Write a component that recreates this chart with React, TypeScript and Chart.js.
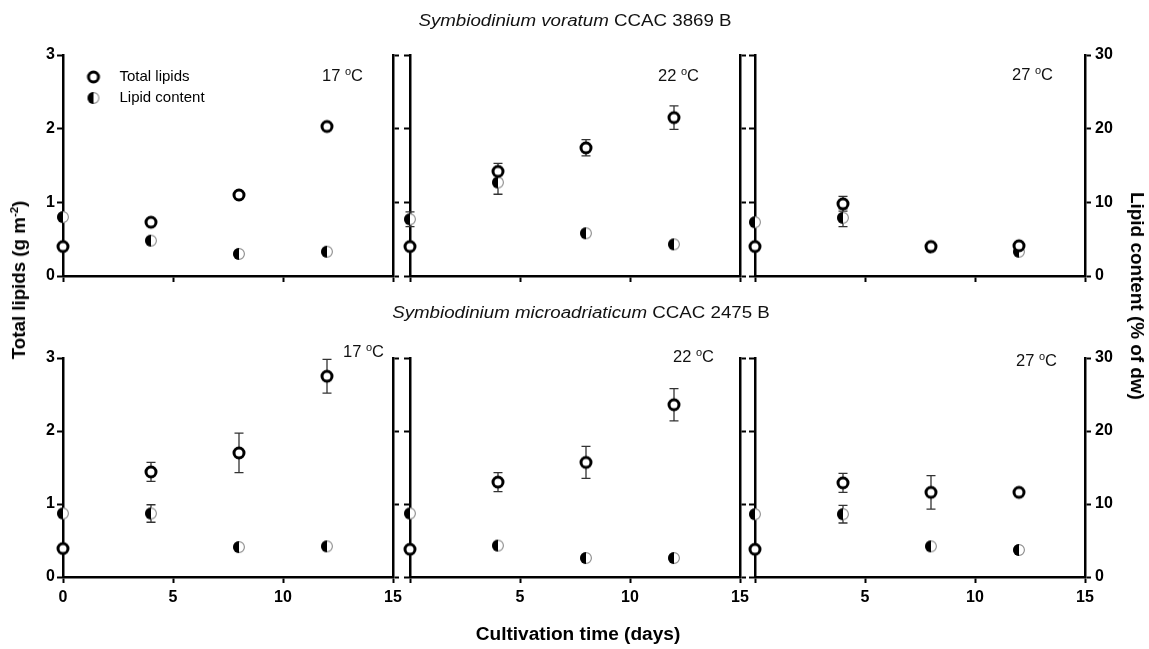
import React, { useEffect, useRef } from 'react';
import { Chart, registerables } from 'chart.js';

Chart.register(...registerables);

// ---------------- data ----------------
const days = [0, 4, 8, 12];
const xTicks = [0, 5, 10, 15];
const lipidTicks = [0, 1, 2, 3];
const contentTicks = [0, 10, 20, 30];
const temperatures = ['17', '22', '27'];
const speciesNames = ['Symbiodinium voratum', 'Symbiodinium microadriaticum'];
const strainNames = ['CCAC 3869 B', 'CCAC 2475 B'];
const seriesLabels = ['Total lipids', 'Lipid content'];

// S. voratum CCAC 3869 B: total lipids (g m-2) and lipid content (% of dw), with SD
const voratumTotal17 = [0.40, 0.73, 1.10, 2.03];
const voratumTotal17Sd = [0, 0, 0, 0];
const voratumContent17 = [8.0, 4.8, 3.0, 3.3];
const voratumContent17Sd = [0, 0, 0, 0];
const voratumTotal22 = [0.40, 1.42, 1.74, 2.15];
const voratumTotal22Sd = [0, 0.11, 0.11, 0.16];
const voratumContent22 = [7.7, 12.7, 5.8, 4.3];
const voratumContent22Sd = [1.0, 1.6, 0, 0];
const voratumTotal27 = [0.40, 0.98, 0.40, 0.41];
const voratumTotal27Sd = [0, 0.10, 0, 0];
const voratumContent27 = [7.3, 7.9, 3.9, 3.3];
const voratumContent27Sd = [0, 1.2, 0, 0];

// S. microadriaticum CCAC 2475 B
const microTotal17 = [0.39, 1.44, 1.70, 2.75];
const microTotal17Sd = [0, 0.13, 0.27, 0.23];
const microContent17 = [8.7, 8.7, 4.1, 4.2];
const microContent17Sd = [0, 1.2, 0, 0];
const microTotal22 = [0.38, 1.30, 1.57, 2.36];
const microTotal22Sd = [0, 0.13, 0.22, 0.22];
const microContent22 = [8.7, 4.3, 2.6, 2.6];
const microContent22Sd = [0, 0, 0, 0];
const microTotal27 = [0.38, 1.29, 1.16, 1.16];
const microTotal27Sd = [0, 0.13, 0.23, 0];
const microContent27 = [8.6, 8.6, 4.2, 3.7];
const microContent27Sd = [0, 1.2, 0, 0];

const panelData = [
  [voratumTotal17, voratumTotal17Sd, voratumContent17, voratumContent17Sd],
  [voratumTotal22, voratumTotal22Sd, voratumContent22, voratumContent22Sd],
  [voratumTotal27, voratumTotal27Sd, voratumContent27, voratumContent27Sd],
  [microTotal17, microTotal17Sd, microContent17, microContent17Sd],
  [microTotal22, microTotal22Sd, microContent22, microContent22Sd],
  [microTotal27, microTotal27Sd, microContent27, microContent27Sd],
];

// ---------------- layout ----------------
const W = 1149;
const H = 649;
const FONT = '"Liberation Sans", Arial, Helvetica, sans-serif';
const COL_LEFT = [63, 410, 755];
const PLOT_W = 330;
const ROW_TOP = [55, 358];
const ROW_BOTTOM = [276, 577];
const Y_W = 40;
const Y2_W = 44;
const X_H = 40;

const tempPos = [
  [322, 76], [658, 76], [1012, 75],
  [343, 352], [673, 357], [1016, 361],
];

function makeOpenMarker() {
  const c = document.createElement('canvas');
  c.width = 16; c.height = 16;
  const g = c.getContext('2d')!;
  g.beginPath();
  g.arc(8, 8, 5, 0, Math.PI * 2);
  g.fillStyle = '#fff';
  g.fill();
  g.lineWidth = 3;
  g.strokeStyle = '#000';
  g.stroke();
  return c;
}

function makeHalfMarker() {
  const c = document.createElement('canvas');
  c.width = 14; c.height = 14;
  const g = c.getContext('2d')!;
  g.beginPath();
  g.arc(7, 7, 5.4, 0, Math.PI * 2);
  g.fillStyle = '#fff';
  g.fill();
  g.lineWidth = 1.1;
  g.strokeStyle = '#8a8a8a';
  g.stroke();
  g.beginPath();
  g.arc(7, 7, 6, Math.PI / 2, Math.PI * 1.5);
  g.closePath();
  g.fillStyle = '#000';
  g.fill();
  return c;
}

const errorBarPlugin = {
  id: 'errorBars',
  beforeDatasetsDraw(chart: any) {
    const ctx = chart.ctx;
    const xs = chart.scales.x;
    chart.data.datasets.forEach((ds: any) => {
      const errs = ds.errors;
      if (!errs) return;
      const ys = chart.scales[ds.yAxisID];
      ds.data.forEach((p: any, j: number) => {
        const e = errs[j];
        if (!e) return;
        const px = xs.getPixelForValue(p.x);
        const top = ys.getPixelForValue(p.y + e);
        const bot = ys.getPixelForValue(p.y - e);
        ctx.save();
        ctx.strokeStyle = '#333';
        ctx.lineWidth = 1.3;
        ctx.beginPath();
        ctx.moveTo(px, top); ctx.lineTo(px, bot);
        ctx.moveTo(px - 4.5, top); ctx.lineTo(px + 4.5, top);
        ctx.moveTo(px - 4.5, bot); ctx.lineTo(px + 4.5, bot);
        ctx.stroke();
        ctx.restore();
      });
    });
  },
};

const insetLegendPlugin = {
  id: 'insetLegend',
  afterDraw(chart: any, _args: any, opts: any) {
    if (!opts || !opts.show) return;
    const { ctx, chartArea } = chart;
    ctx.save();
    ctx.font = `${opts.fontSize}px ${FONT}`;
    ctx.fillStyle = '#000';
    ctx.textBaseline = 'middle';
    ctx.textAlign = 'left';
    chart.data.datasets.forEach((ds: any, i: number) => {
      const cx = chartArea.left + opts.dx;
      const cy = chartArea.top + opts.dy + i * opts.gap;
      const img = ds.pointStyle;
      ctx.drawImage(img, cx - img.width / 2, cy - img.height / 2);
      ctx.fillText(ds.label, cx + opts.textDx, cy);
    });
    ctx.restore();
  },
};

function axisBase(ticksArr: number[], showLabels: boolean, extraTicks: any, fitter: (s: any) => void) {
  return {
    type: 'linear',
    min: ticksArr[0],
    max: ticksArr[ticksArr.length - 1],
    z: 1,
    afterBuildTicks: (s: any) => { s.ticks = ticksArr.map((v) => ({ value: v })); },
    afterFit: fitter,
    ticks: {
      display: showLabels,
      color: '#000',
      font: { family: FONT, size: 16, weight: 'bold' },
      autoSkip: false,
      maxRotation: 0,
      ...extraTicks,
    },
    grid: {
      drawOnChartArea: false,
      drawTicks: true,
      tickLength: 6,
      tickWidth: 2,
      tickColor: '#000',
    },
    border: { display: true, color: '#000', width: 2.5 },
  };
}

function Panel({ index }: { index: number }) {
  const ref = useRef<HTMLCanvasElement>(null);
  useEffect(() => {
    const row = Math.floor(index / 3);
    const col = index % 3;
    const [total, totalSd, content, contentSd] = panelData[index];
    const openMarker = makeOpenMarker();
    const halfMarker = makeHalfMarker();
    const chart = new Chart(ref.current!, {
      type: 'scatter',
      data: {
        datasets: [
          {
            label: seriesLabels[0],
            data: days.map((d, i) => ({ x: d, y: total[i] })),
            errors: totalSd,
            yAxisID: 'y',
            pointStyle: openMarker,
            radius: 6,
            clip: false,
            order: 0,
          } as any,
          {
            label: seriesLabels[1],
            data: days.map((d, i) => ({ x: d, y: content[i] })),
            errors: contentSd,
            yAxisID: 'y2',
            pointStyle: halfMarker,
            radius: 6,
            clip: false,
            order: 1,
          } as any,
        ],
      },
      options: {
        responsive: false,
        animation: false,
        devicePixelRatio: 1,
        events: [],
        layout: {
          padding: {
            left: COL_LEFT[col] - Y_W,
            right: W - (COL_LEFT[col] + PLOT_W) - Y2_W,
            top: ROW_TOP[row],
            bottom: H - ROW_BOTTOM[row] - X_H,
          },
        },
        scales: {
          x: axisBase(
            xTicks,
            row === 1,
            { padding: 5, callback: (v: any) => (col > 0 && v === 0 ? '' : String(v)) },
            (s: any) => { s.height = X_H; }
          ),
          y: {
            ...axisBase(lipidTicks, col === 0, { padding: 2 }, (s: any) => { s.width = Y_W; }),
            position: 'left',
          },
          y2: {
            ...axisBase(contentTicks, col === 2, { padding: 4 }, (s: any) => { s.width = Y2_W; }),
            position: 'right',
          },
        } as any,
        plugins: {
          legend: { display: false },
          tooltip: { enabled: false },
          insetLegend: {
            show: index === 0,
            dx: 30.5,
            dy: 22,
            gap: 21,
            textDx: 26,
            fontSize: 15,
          },
        } as any,
      },
      plugins: [errorBarPlugin, insetLegendPlugin],
    });
    return () => chart.destroy();
  }, [index]);
  return (
    <canvas
      ref={ref}
      width={W}
      height={H}
      style={{ position: 'absolute', left: 0, top: 0, width: W, height: H }}
    />
  );
}

const axisTitleBase: React.CSSProperties = {
  position: 'absolute',
  fontSize: 18,
  lineHeight: '18px',
  fontWeight: 'bold',
  whiteSpace: 'nowrap',
  color: '#000',
};

export default function App() {
  const titleStyle = (cx: number, cy: number): React.CSSProperties => ({
    position: 'absolute',
    left: cx,
    top: cy,
    transform: 'translate(-50%, -50%) scaleX(1.17)',
    fontSize: 16,
    lineHeight: '16px',
    whiteSpace: 'nowrap',
    color: '#111',
  });
  return (
    <div
      style={{
        position: 'absolute',
        left: 0,
        top: 0,
        width: W,
        height: H,
        background: '#fff',
        fontFamily: FONT,
        overflow: 'hidden',
      }}
    >
      {panelData.map((_, i) => (
        <Panel key={i} index={i} />
      ))}
      <div style={titleStyle(575, 21)}>
        <i>{speciesNames[0]}</i> {strainNames[0]}
      </div>
      <div style={titleStyle(581, 313)}>
        <i>{speciesNames[1]}</i> {strainNames[1]}
      </div>
      {tempPos.map(([x, y], i) => (
        <div
          key={'t' + i}
          style={{
            position: 'absolute',
            left: x,
            top: y,
            transform: 'translateY(-50%)',
            fontSize: 16.5,
            lineHeight: '16px',
            whiteSpace: 'nowrap',
            color: '#111',
          }}
        >
          {temperatures[i % 3]}{' '}
          <span style={{ fontSize: 11, position: 'relative', top: -6 }}>o</span>C
        </div>
      ))}
      <div
        style={{
          ...axisTitleBase,
          left: 20,
          top: 280,
          transform: 'translate(-50%, -50%) rotate(-90deg) scaleX(1.04)',
        }}
      >
        Total lipids (g m<span style={{ fontSize: 11, position: 'relative', top: -7 }}>-2</span>)
      </div>
      <div
        style={{
          ...axisTitleBase,
          left: 1137,
          top: 296,
          transform: 'translate(-50%, -50%) rotate(90deg) scaleX(1.05)',
        }}
      >
        Lipid content (% of dw)
      </div>
      <div
        style={{
          ...axisTitleBase,
          left: 578,
          top: 634,
          transform: 'translate(-50%, -50%) scaleX(1.06)',
        }}
      >
        Cultivation time (days)
      </div>
    </div>
  );
}
